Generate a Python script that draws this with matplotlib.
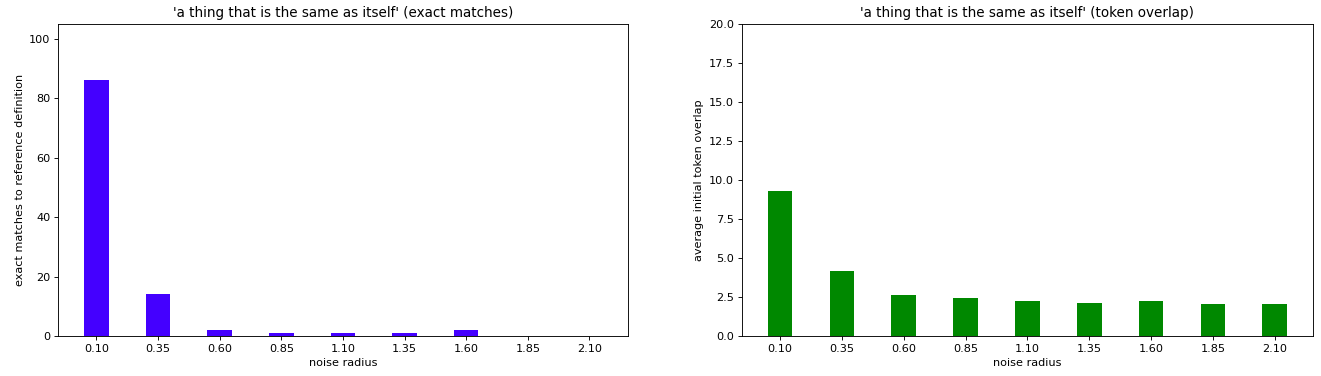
import matplotlib
matplotlib.use("Agg")
import matplotlib.pyplot as plt
import numpy as np

noise_radius = [0.10, 0.35, 0.60, 0.85, 1.10, 1.35, 1.60, 1.85, 2.10]
tick_labels = ["0.10", "0.35", "0.60", "0.85", "1.10", "1.35", "1.60", "1.85", "2.10"]
exact_matches = [86, 14, 2, 1, 1, 1, 2, 0, 0]
token_overlap = [9.28, 4.16, 2.61, 2.44, 2.24, 2.09, 2.24, 2.03, 2.03]

DPI = 81
fig = plt.figure(figsize=(1321 / DPI, 376 / DPI), dpi=DPI)
ax1 = fig.add_axes([0.0441, 0.1064, 0.4310, 0.8298])
ax2 = fig.add_axes([0.5615, 0.1064, 0.4325, 0.8298])

ax1.bar(noise_radius, exact_matches, width=0.1, color="#4400FF")
ax1.set_xticks(noise_radius)
ax1.set_xticklabels(tick_labels)
ax1.set_ylim(0, 105)
ax1.set_xlabel("noise radius")
ax1.set_ylabel("exact matches to reference definition")
ax1.set_title("'a thing that is the same as itself' (exact matches)")

ax2.bar(noise_radius, token_overlap, width=0.1, color="#008800")
ax2.set_xticks(noise_radius)
ax2.set_xticklabels(tick_labels)
ax2.set_ylim(0, 20)
ax2.set_xlabel("noise radius")
ax2.set_ylabel("average initial token overlap")
ax2.set_title("'a thing that is the same as itself' (token overlap)")

fig.savefig("out.png", dpi=DPI)
